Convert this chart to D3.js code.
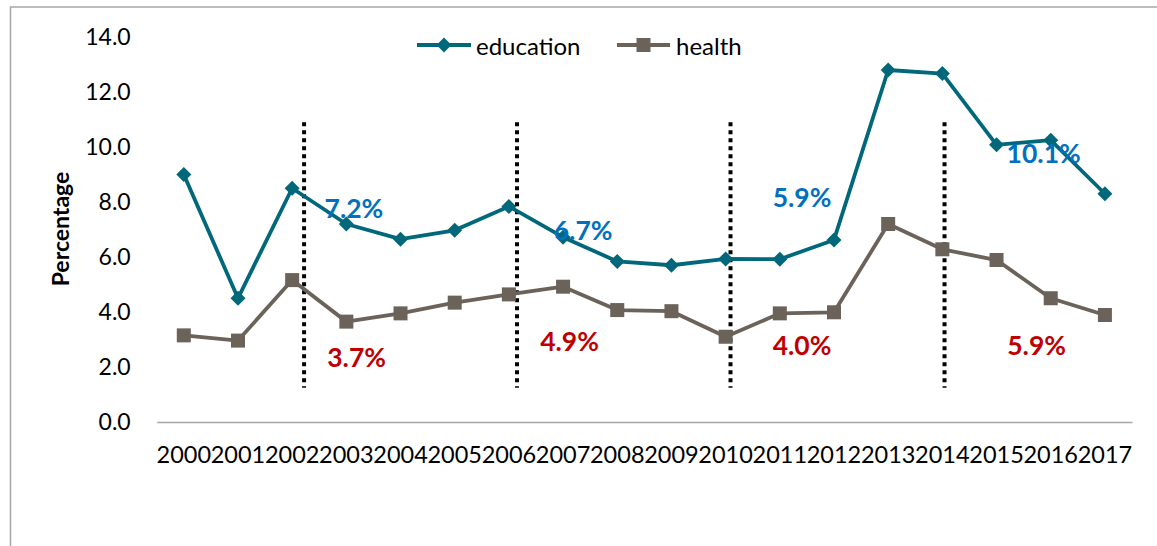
<!DOCTYPE html>
<html>
<head>
<meta charset="utf-8">
<script src="https://cdnjs.cloudflare.com/ajax/libs/d3/7.8.5/d3.min.js"></script>
<style>
  html, body { margin: 0; padding: 0; background: #ffffff; }
  svg { display: block; }
  text { font-family: Lato, "Open Sans", "Liberation Sans", sans-serif; }
</style>
</head>
<body>
<svg id="chart" width="1157" height="546"></svg>
<script>
// ---- data ----
const years = [2000, 2001, 2002, 2003, 2004, 2005, 2006, 2007, 2008, 2009,
               2010, 2011, 2012, 2013, 2014, 2015, 2016, 2017];
const education = [9.0, 4.5, 8.5, 7.2, 6.65, 6.97, 7.84, 6.72, 5.84, 5.7,
                   5.93, 5.92, 6.62, 12.8, 12.67, 10.08, 10.25, 8.3];
const health = [3.15, 2.96, 5.16, 3.65, 3.95, 4.34, 4.64, 4.92, 4.07, 4.03,
                3.1, 3.95, 3.99, 7.2, 6.28, 5.89, 4.5, 3.89];
const yTicks = [0, 2, 4, 6, 8, 10, 12, 14];
const seriesNames = ["education", "health"];
// period dividers (fractional year positions) and their vertical extent (in %)
const dividerYears = [2002.22, 2006.15, 2010.09, 2014.04];
const dividerExtent = [1.25, 10.9];
// period averages shown as annotations: [label, year anchor, value anchor, series]
const annotations = [
  ["7.2%", 2003.14, 7.78, "education"],
  ["6.7%", 2007.37, 6.97, "education"],
  ["5.9%", 2011.41, 8.18, "education"],
  ["10.1%", 2015.87, 9.78, "education"],
  ["3.7%", 2003.19, 2.37, "health"],
  ["4.9%", 2007.12, 2.95, "health"],
  ["4.0%", 2011.41, 2.80, "health"],
  ["5.9%", 2015.74, 2.80, "health"]
];

// ---- styles ----
const colors = { education: "#00687A", health: "#6B6259" };
const annColors = { education: "#0070C0", health: "#C00000" };

const svg = d3.select("#chart");

// outer chart border (extends beyond the picture to the right and bottom)
svg.append("rect")
  .attr("x", 10.5).attr("y", 7).attr("width", 1200).attr("height", 600)
  .attr("fill", "none").attr("stroke", "#A6A6A6").attr("stroke-width", 1.5);

const plot = { left: 156.7, right: 1132, top: 37, bottom: 422 };

const x = d3.scaleBand().domain(years).range([plot.left, plot.right]).padding(0);
const bw = x.bandwidth();
const xl = d3.scaleLinear().domain([2000, 2017])
  .range([x(2000) + bw / 2, x(2017) + bw / 2]);
const y = d3.scaleLinear().domain([0, 14]).range([plot.bottom, plot.top]);

// y axis (labels only)
const yAxis = svg.append("g")
  .attr("transform", `translate(${plot.left},0)`)
  .call(d3.axisLeft(y).tickValues(yTicks).tickFormat(d3.format(".1f")).tickSize(0).tickPadding(26));
yAxis.select(".domain").remove();
yAxis.selectAll("text").attr("font-size", 23).attr("fill", "#000").attr("font-family", "Lato, sans-serif");

// x axis
const xAxis = svg.append("g")
  .attr("transform", `translate(0,${plot.bottom})`)
  .call(d3.axisBottom(x).tickSize(0));
xAxis.select(".domain").attr("stroke", "#A6A6A6").attr("stroke-width", 1.5);
xAxis.selectAll("text").attr("font-size", 23.5).attr("fill", "#000")
  .attr("font-family", "Lato, sans-serif").attr("y", 41).attr("dy", 0);

// y title
svg.append("text")
  .attr("transform", `translate(69,229) rotate(-90)`)
  .attr("text-anchor", "middle")
  .attr("font-size", 23).attr("font-weight", "bold").attr("fill", "#000")
  .text("Percentage");

// dividers
svg.append("g").selectAll("line").data(dividerYears).join("line")
  .attr("x1", d => xl(d)).attr("x2", d => xl(d))
  .attr("y1", y(dividerExtent[1])).attr("y2", y(dividerExtent[0]))
  .attr("stroke", "#000").attr("stroke-width", 4).attr("stroke-dasharray", "4,4");

// lines
const seriesData = { education, health };
const line = d3.line().x((d, i) => x(years[i]) + bw / 2).y(d => y(d));
const diamond = s => `M0,${-s}L${s},0L0,${s}L${-s},0Z`;
const square = s => `M${-s},${-s}H${s}V${s}H${-s}Z`;
const markerPath = { education: diamond(7.5), health: square(7) };

seriesNames.forEach(name => {
  const g = svg.append("g");
  g.append("path").datum(seriesData[name])
    .attr("d", line).attr("fill", "none")
    .attr("stroke", colors[name]).attr("stroke-width", 3.8)
    .attr("stroke-linejoin", "round");
  g.selectAll("path.m").data(seriesData[name]).join("path")
    .attr("class", "m")
    .attr("d", markerPath[name])
    .attr("transform", (d, i) => `translate(${x(years[i]) + bw / 2},${y(d)})`)
    .attr("fill", colors[name]);
});

// annotations
svg.append("g").selectAll("text").data(annotations).join("text")
  .attr("x", d => xl(d[1])).attr("y", d => y(d[2]))
  .attr("text-anchor", "middle").attr("dominant-baseline", "central")
  .attr("font-size", 26.5).attr("font-weight", "bold")
  .attr("fill", d => annColors[d[3]])
  .text(d => d[0]);

// legend
const legend = [
  { name: "education", x0: 417, x1: 471, tx: 476 },
  { name: "health", x0: 617, x1: 670, tx: 676 }
];
const lg = svg.append("g");
legend.forEach(l => {
  lg.append("line").attr("x1", l.x0).attr("x2", l.x1).attr("y1", 45).attr("y2", 45)
    .attr("stroke", colors[l.name]).attr("stroke-width", 3.8);
  lg.append("path").attr("d", markerPath[l.name])
    .attr("transform", `translate(${(l.x0 + l.x1) / 2},45)`).attr("fill", colors[l.name]);
  lg.append("text").attr("x", l.tx).attr("y", 45).attr("dominant-baseline", "central")
    .attr("font-size", 24).attr("fill", "#000").text(l.name);
});
</script>
</body>
</html>
